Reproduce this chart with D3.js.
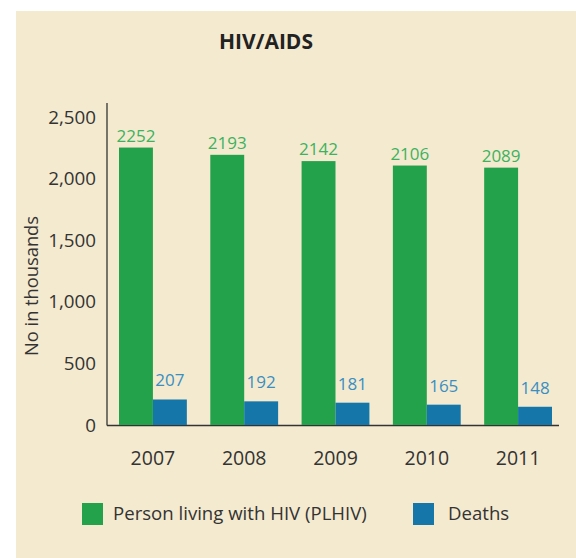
<!DOCTYPE html>
<html><head><meta charset="utf-8">
<script src="https://cdn.jsdelivr.net/npm/d3@7"></script>
<style>html,body{margin:0;padding:0;background:#fff;} svg{display:block;}</style>
</head><body>
<svg id="c" width="576" height="558"></svg>
<script>
const years = ["2007","2008","2009","2010","2011"];
const plhiv = [2252, 2193, 2142, 2106, 2089];
const deaths = [207, 192, 181, 165, 148];
const seriesNames = ["Person living with HIV (PLHIV)", "Deaths"];
const yTicks = [0, 500, 1000, 1500, 2000, 2500];
const title = "HIV/AIDS";
const yTitle = "No in thousands";

const colors = ["#23a24b", "#1476a9"];
const labelColors = ["#3db25e", "#3a8fc2"];
const font = "'Open Sans', sans-serif";
const textColor = "#333";

const svg = d3.select("#c");
svg.append("rect").attr("x", 16).attr("y", 11).attr("width", 560).attr("height", 547).attr("fill", "#f4eacf");

const y = d3.scaleLinear().domain([0, 2500]).range([425, 117]);
const x0 = d3.scaleBand().domain(years).range([119, 552]).paddingInner(0.257).paddingOuter(0);
const x1 = d3.scaleBand().domain([0, 1]).range([0, x0.bandwidth()]);

svg.append("text").attr("x", 266).attr("y", 49).attr("text-anchor", "middle")
  .attr("font-family", font).attr("font-weight", "bold").attr("font-size", 21).attr("fill", "#222").text(title);

// y tick labels
const yAxis = d3.axisLeft(y).tickValues(yTicks).tickSize(0).tickPadding(11).tickFormat(d3.format(","));
const gy = svg.append("g").attr("transform", "translate(107,0)").call(yAxis);
gy.select(".domain").remove();
gy.selectAll("text").attr("font-family", font).attr("font-size", 18.8).attr("fill", textColor);

// axis lines
svg.append("line").attr("x1", 107).attr("x2", 107).attr("y1", 103).attr("y2", 425.5).attr("stroke", "#333").attr("stroke-width", 1.3);
svg.append("line").attr("x1", 107).attr("x2", 559).attr("y1", 425.5).attr("y2", 425.5).attr("stroke", "#333").attr("stroke-width", 1.3);

// x axis labels
const xAxis = d3.axisBottom(x0).tickSize(0).tickPadding(26);
const gx = svg.append("g").attr("transform", "translate(0,425)").call(xAxis);
gx.select(".domain").remove();
gx.selectAll("text").attr("font-family", font).attr("font-size", 19.5).attr("fill", textColor);

const data = [plhiv, deaths];
const gaps = [6, 13];
years.forEach((yr, i) => {
  [0, 1].forEach(s => {
    const v = data[s][i];
    const bx = x0(yr) + x1(s);
    svg.append("rect").attr("x", bx).attr("y", y(v)).attr("width", x1.bandwidth()).attr("height", y(0) - y(v)).attr("fill", colors[s]);
    svg.append("text").attr("x", bx + x1.bandwidth() / 2).attr("y", y(v) - gaps[s]).attr("text-anchor", "middle")
      .attr("font-family", font).attr("font-size", 17).attr("fill", labelColors[s]).text(v);
  });
});

// y title
svg.append("text").attr("transform", "translate(38,286) rotate(-90)").attr("text-anchor", "middle")
  .attr("font-family", font).attr("font-size", 18.3).attr("fill", textColor).text(yTitle);

// legend
const legX = [82, 413];
seriesNames.forEach((n, s) => {
  svg.append("rect").attr("x", legX[s]).attr("y", 503).attr("width", 21).attr("height", 22).attr("fill", colors[s]);
  svg.append("text").attr("x", legX[s] + (s === 0 ? 31 : 35)).attr("y", 520).attr("font-family", font).attr("font-size", 18.6).attr("fill", textColor).text(n);
});
</script>
</body></html>
